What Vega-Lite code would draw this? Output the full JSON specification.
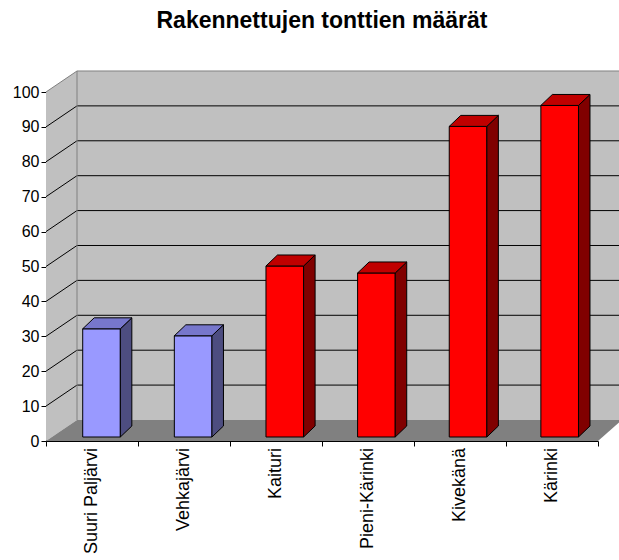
{
  "$schema": "https://vega.github.io/schema/vega-lite/v6.json",
  "width": 552,
  "height": 349,
  "autosize": {"type": "none"},
  "padding": {"left": 46, "top": 92, "right": 21, "bottom": 119},
  "background": "white",
  "title": {
    "text": "Rakennettujen tonttien määrät",
    "font": "Liberation Sans",
    "fontSize": 23,
    "fontWeight": "bold",
    "color": "black",
    "anchor": "middle",
    "frame": "group",
    "offset": 36
  },
  "config": {
    "view": {"stroke": null},
    "axis": {
      "labelFont": "Liberation Sans",
      "labelFontSize": 16,
      "labelColor": "black",
      "tickColor": "black",
      "domainColor": "black",
      "grid": false,
      "zindex": 1
    }
  },
  "datasets": {
    "maarat": [
      {"nimi": "Suuri Paljärvi", "arvo": 31, "tyyppi": "järvi"},
      {"nimi": "Vehkajärvi", "arvo": 29, "tyyppi": "järvi"},
      {"nimi": "Kaituri", "arvo": 49, "tyyppi": "muu"},
      {"nimi": "Pieni-Kärinki", "arvo": 47, "tyyppi": "muu"},
      {"nimi": "Kivekänä", "arvo": 89, "tyyppi": "muu"},
      {"nimi": "Kärinki", "arvo": 95, "tyyppi": "muu"}
    ],
    "tasot": [
      {"v": 10}, {"v": 20}, {"v": 30}, {"v": 40}, {"v": 50},
      {"v": 60}, {"v": 70}, {"v": 80}, {"v": 90}
    ],
    "syvyys": [{"z": 0}, {"z": 1}]
  },
  "layer": [
    {
      "data": {"name": "syvyys"},
      "transform": [
        {"calculate": "datum.z * 0.337", "as": "xv"},
        {"calculate": "6 + datum.z * 0.258", "as": "xo"},
        {"calculate": "datum.z * 6.02", "as": "ya"},
        {"calculate": "100 + datum.z * 6.02", "as": "yy"}
      ],
      "layer": [
        {
          "transform": [{"filter": "datum.z === 1"}],
          "mark": {"type": "rect", "fill": "#C0C0C0"},
          "encoding": {
            "x": {"field": "xv", "type": "quantitative", "scale": {"domain": [0, 6], "nice": false, "zero": false}, "axis": {"values": [0, 1, 2, 3, 4, 5, 6], "labels": false, "tickSize": 5, "title": null}},
            "x2": {"field": "xo"},
            "y": {"field": "ya", "type": "quantitative", "scale": {"domain": [0, 100], "nice": false}, "axis": {"values": [0, 10, 20, 30, 40, 50, 60, 70, 80, 90, 100], "tickSize": 5, "labelPadding": 2, "title": null}},
            "y2": {"field": "yy"}
          }
        },
        {
          "mark": {"type": "area", "orient": "vertical", "fill": "#C0C0C0"},
          "encoding": {
            "x": {"field": "xv", "type": "quantitative", "scale": {"domain": [0, 6], "nice": false, "zero": false}, "axis": {"values": [0, 1, 2, 3, 4, 5, 6], "labels": false, "tickSize": 5, "title": null}},
            "y": {"field": "yy", "type": "quantitative", "scale": {"domain": [0, 100], "nice": false}, "axis": {"values": [0, 10, 20, 30, 40, 50, 60, 70, 80, 90, 100], "tickSize": 5, "labelPadding": 2, "title": null}},
            "y2": {"field": "ya"}
          }
        },
        {
          "mark": {"type": "area", "orient": "horizontal", "fill": "#808080"},
          "encoding": {
            "y": {"field": "ya", "type": "quantitative", "scale": {"domain": [0, 100], "nice": false}, "axis": {"values": [0, 10, 20, 30, 40, 50, 60, 70, 80, 90, 100], "tickSize": 5, "labelPadding": 2, "title": null}},
            "x": {"field": "xv", "type": "quantitative", "scale": {"domain": [0, 6], "nice": false, "zero": false}, "axis": {"values": [0, 1, 2, 3, 4, 5, 6], "labels": false, "tickSize": 5, "title": null}},
            "x2": {"field": "xo"}
          }
        }
      ]
    },
    {
      "data": {"name": "tasot"},
      "transform": [{"calculate": "datum.v + 6.02", "as": "vt"}],
      "layer": [
        {
          "mark": {"type": "rule", "color": "black", "strokeWidth": 1},
          "encoding": {
            "x": {"datum": 0.337, "type": "quantitative", "scale": {"domain": [0, 6], "nice": false, "zero": false}, "axis": {"values": [0, 1, 2, 3, 4, 5, 6], "labels": false, "tickSize": 5, "title": null}},
            "x2": {"datum": 6.258},
            "y": {"field": "vt", "type": "quantitative", "scale": {"domain": [0, 100], "nice": false}, "axis": {"values": [0, 10, 20, 30, 40, 50, 60, 70, 80, 90, 100], "tickSize": 5, "labelPadding": 2, "title": null}}
          }
        },
        {
          "mark": {"type": "rule", "color": "black", "strokeWidth": 1},
          "encoding": {
            "x": {"datum": 0, "type": "quantitative", "scale": {"domain": [0, 6], "nice": false, "zero": false}, "axis": {"values": [0, 1, 2, 3, 4, 5, 6], "labels": false, "tickSize": 5, "title": null}},
            "x2": {"datum": 0.337},
            "y": {"field": "v", "type": "quantitative", "scale": {"domain": [0, 100], "nice": false}, "axis": {"values": [0, 10, 20, 30, 40, 50, 60, 70, 80, 90, 100], "tickSize": 5, "labelPadding": 2, "title": null}},
            "y2": {"field": "vt"}
          }
        }
      ]
    },
    {
      "data": {"name": "syvyys"},
      "transform": [
        {"calculate": "datum.z * 0.337", "as": "xv"},
        {"calculate": "6 + datum.z * 0.258", "as": "xo"},
        {"calculate": "datum.z * 6.02", "as": "ya"},
        {"calculate": "100 + datum.z * 6.02", "as": "yy"}
      ],
      "layer": [
        {
          "mark": {"type": "line", "color": "#808080", "strokeWidth": 1},
          "encoding": {
            "x": {"field": "xv", "type": "quantitative", "scale": {"domain": [0, 6], "nice": false, "zero": false}, "axis": {"values": [0, 1, 2, 3, 4, 5, 6], "labels": false, "tickSize": 5, "title": null}},
            "y": {"field": "yy", "type": "quantitative", "scale": {"domain": [0, 100], "nice": false}, "axis": {"values": [0, 10, 20, 30, 40, 50, 60, 70, 80, 90, 100], "tickSize": 5, "labelPadding": 2, "title": null}}
          }
        },
        {
          "transform": [{"filter": "datum.z === 1"}],
          "mark": {"type": "rule", "color": "#808080", "strokeWidth": 1},
          "encoding": {
            "x": {"field": "xv", "type": "quantitative", "scale": {"domain": [0, 6], "nice": false, "zero": false}, "axis": {"values": [0, 1, 2, 3, 4, 5, 6], "labels": false, "tickSize": 5, "title": null}},
            "x2": {"field": "xo"},
            "y": {"field": "yy", "type": "quantitative", "scale": {"domain": [0, 100], "nice": false}, "axis": {"values": [0, 10, 20, 30, 40, 50, 60, 70, 80, 90, 100], "tickSize": 5, "labelPadding": 2, "title": null}}
          }
        },
        {
          "transform": [{"filter": "datum.z === 1"}],
          "mark": {"type": "rule", "color": "#808080", "strokeWidth": 1},
          "encoding": {
            "x": {"field": "xv", "type": "quantitative", "scale": {"domain": [0, 6], "nice": false, "zero": false}, "axis": {"values": [0, 1, 2, 3, 4, 5, 6], "labels": false, "tickSize": 5, "title": null}},
            "y": {"field": "ya", "type": "quantitative", "scale": {"domain": [0, 100], "nice": false}, "axis": {"values": [0, 10, 20, 30, 40, 50, 60, 70, 80, 90, 100], "tickSize": 5, "labelPadding": 2, "title": null}},
            "y2": {"field": "yy"}
          }
        }
      ]
    },
    {
      "data": {"name": "maarat"},
      "transform": [
        {"window": [{"op": "row_number", "as": "nro"}]},
        {"calculate": "0.996 * datum.nro - 0.597", "as": "vasen"},
        {"calculate": "datum.vasen + 0.409", "as": "oikea"},
        {"calculate": "datum.nro - 0.5", "as": "keski"}
      ],
      "layer": [
        {
          "mark": {"type": "rect", "stroke": "black", "strokeWidth": 1, "yOffset": -4, "y2Offset": -4},
          "encoding": {
            "x": {"field": "vasen", "type": "quantitative", "scale": {"domain": [0, 6], "nice": false, "zero": false}, "axis": {"values": [0, 1, 2, 3, 4, 5, 6], "labels": false, "tickSize": 5, "title": null}},
            "x2": {"field": "oikea"},
            "y": {"field": "arvo", "type": "quantitative", "scale": {"domain": [0, 100], "nice": false}, "axis": {"values": [0, 10, 20, 30, 40, 50, 60, 70, 80, 90, 100], "tickSize": 5, "labelPadding": 2, "title": null}},
            "y2": {"datum": 0},
            "fill": {"condition": {"test": "datum.tyyppi === 'järvi'", "value": "#9999FF"}, "value": "#FF0000"}
          }
        },
        {
          "transform": [
            {"calculate": "[0, 1]", "as": "z"},
            {"flatten": ["z"]},
            {"calculate": "datum.oikea + datum.z * 0.125", "as": "xs"},
            {"calculate": "datum.vasen + datum.z * 0.125", "as": "xt"},
            {"calculate": "datum.arvo + datum.z * 3.15", "as": "yk"},
            {"calculate": "datum.z * 3.15", "as": "yp"}
          ],
          "layer": [
            {
              "mark": {"type": "area", "orient": "vertical", "stroke": "black", "strokeWidth": 1, "yOffset": -4, "y2Offset": -4},
              "encoding": {
                "x": {"field": "xs", "type": "quantitative", "scale": {"domain": [0, 6], "nice": false, "zero": false}, "axis": {"values": [0, 1, 2, 3, 4, 5, 6], "labels": false, "tickSize": 5, "title": null}},
                "y": {"field": "yk", "type": "quantitative", "scale": {"domain": [0, 100], "nice": false}, "axis": {"values": [0, 10, 20, 30, 40, 50, 60, 70, 80, 90, 100], "tickSize": 5, "labelPadding": 2, "title": null}},
                "y2": {"field": "yp"},
                "detail": {"field": "nimi"},
                "fill": {"condition": {"test": "datum.tyyppi === 'järvi'", "value": "#4D4D80"}, "value": "#800000"}
              }
            },
            {
              "mark": {"type": "area", "orient": "horizontal", "stroke": "black", "strokeWidth": 1, "yOffset": -4},
              "encoding": {
                "y": {"field": "yk", "type": "quantitative", "scale": {"domain": [0, 100], "nice": false}, "axis": {"values": [0, 10, 20, 30, 40, 50, 60, 70, 80, 90, 100], "tickSize": 5, "labelPadding": 2, "title": null}},
                "x": {"field": "xt", "type": "quantitative", "scale": {"domain": [0, 6], "nice": false, "zero": false}, "axis": {"values": [0, 1, 2, 3, 4, 5, 6], "labels": false, "tickSize": 5, "title": null}},
                "x2": {"field": "xs"},
                "detail": {"field": "nimi"},
                "fill": {"condition": {"test": "datum.tyyppi === 'järvi'", "value": "#7777CC"}, "value": "#C00000"}
              }
            }
          ]
        },
        {
          "mark": {"type": "text", "angle": 270, "align": "right", "baseline": "middle", "yOffset": 7, "font": "Liberation Sans", "fontSize": 18, "color": "black"},
          "encoding": {
            "x": {"field": "keski", "type": "quantitative", "scale": {"domain": [0, 6], "nice": false, "zero": false}, "axis": {"values": [0, 1, 2, 3, 4, 5, 6], "labels": false, "tickSize": 5, "title": null}},
            "y": {"datum": 0, "type": "quantitative", "scale": {"domain": [0, 100], "nice": false}, "axis": {"values": [0, 10, 20, 30, 40, 50, 60, 70, 80, 90, 100], "tickSize": 5, "labelPadding": 2, "title": null}},
            "text": {"field": "nimi"}
          }
        }
      ]
    }
  ]
}
